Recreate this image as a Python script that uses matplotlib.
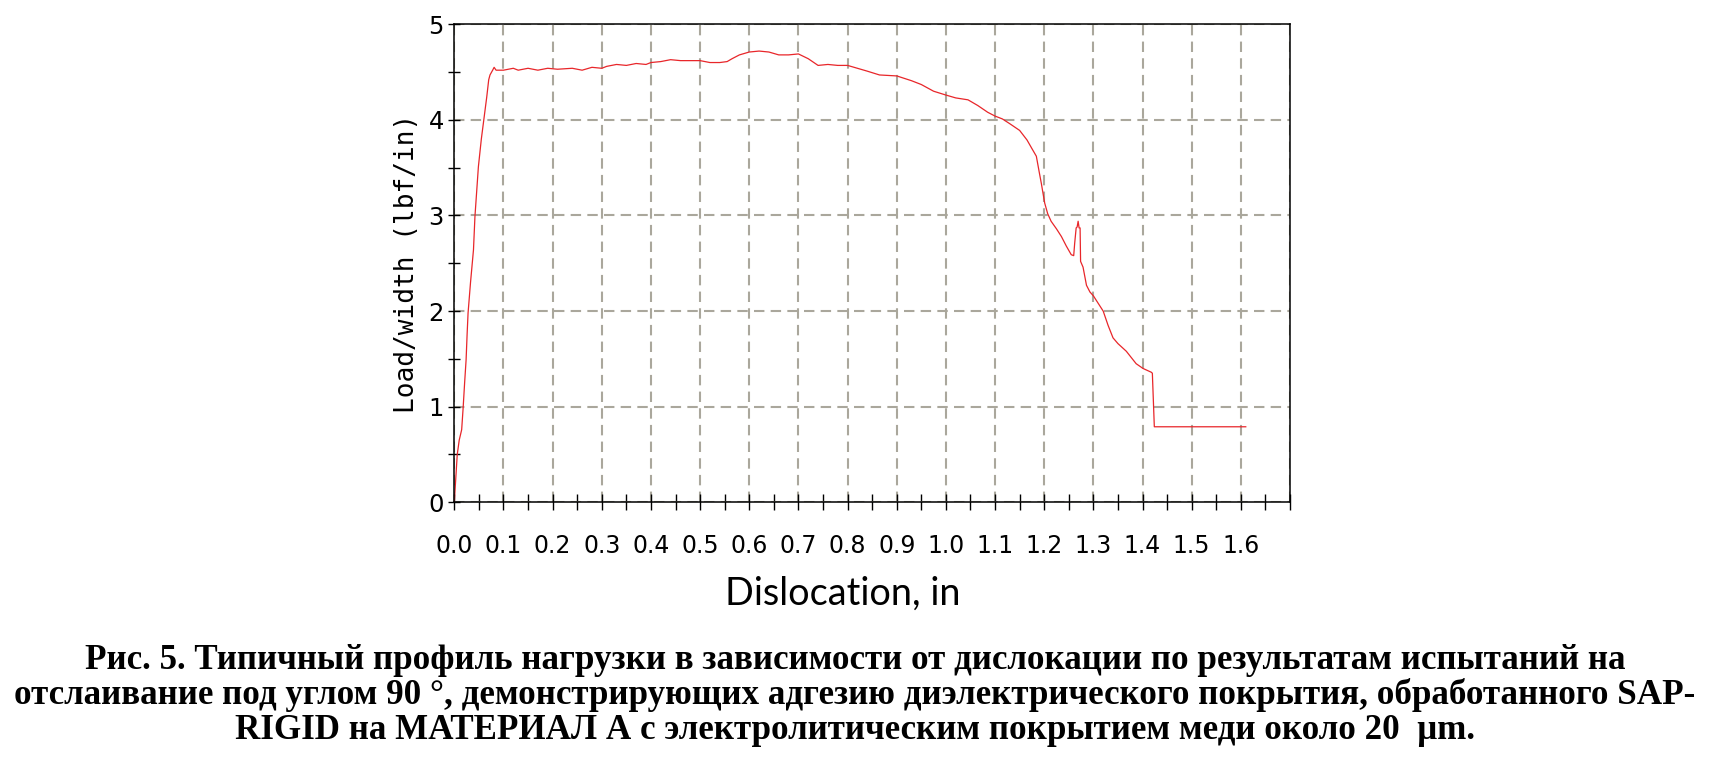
import matplotlib
matplotlib.use("Agg")
import matplotlib.pyplot as plt
from matplotlib.ticker import MultipleLocator, FixedLocator, FixedFormatter

# ---- data ----
disp = [0.000, 0.003, 0.006, 0.010, 0.015, 0.018, 0.021, 0.024, 0.026, 0.028,
        0.033, 0.039, 0.042, 0.049, 0.055, 0.059, 0.066, 0.070, 0.0726, 0.078,
        0.081, 0.085, 0.10, 0.12, 0.13, 0.15, 0.17, 0.19, 0.21, 0.24,
        0.26, 0.28, 0.30, 0.31, 0.33, 0.35, 0.37, 0.39, 0.40, 0.42,
        0.44, 0.46, 0.48, 0.50, 0.52, 0.54, 0.555, 0.565, 0.58, 0.60,
        0.62, 0.64, 0.66, 0.68, 0.70, 0.72, 0.74, 0.76, 0.78, 0.80,
        0.82, 0.84, 0.865, 0.90, 0.93, 0.95, 0.975, 1.00, 1.02, 1.045,
        1.065, 1.085, 1.10, 1.115, 1.13, 1.15, 1.165, 1.175, 1.184, 1.19,
        1.194, 1.201, 1.207, 1.214, 1.225, 1.235, 1.245, 1.255, 1.260, 1.262,
        1.265, 1.267, 1.269, 1.271, 1.273, 1.274, 1.279, 1.286, 1.293, 1.300,
        1.310, 1.320, 1.330, 1.340, 1.350, 1.367, 1.387, 1.401, 1.418, 1.420,
        1.424, 1.610]
load = [0.00, 0.25, 0.50, 0.65, 0.76, 0.99, 1.25, 1.49, 1.75, 1.98,
        2.30, 2.64, 2.99, 3.51, 3.80, 3.96, 4.24, 4.42, 4.47, 4.52,
        4.55, 4.52, 4.52, 4.54, 4.52, 4.54, 4.52, 4.54, 4.53, 4.54,
        4.52, 4.55, 4.54, 4.56, 4.58, 4.57, 4.59, 4.58, 4.60, 4.61,
        4.63, 4.62, 4.62, 4.62, 4.60, 4.60, 4.61, 4.64, 4.68, 4.71,
        4.72, 4.71, 4.68, 4.68, 4.69, 4.64, 4.57, 4.58, 4.57, 4.57,
        4.54, 4.51, 4.47, 4.46, 4.41, 4.37, 4.30, 4.26, 4.23, 4.21,
        4.15, 4.08, 4.04, 4.01, 3.96, 3.89, 3.79, 3.70, 3.62, 3.45,
        3.34, 3.13, 3.02, 2.94, 2.86, 2.78, 2.68, 2.59, 2.58, 2.71,
        2.87, 2.88, 2.94, 2.87, 2.87, 2.52, 2.46, 2.27, 2.20, 2.16,
        2.08, 2.00, 1.85, 1.72, 1.66, 1.58, 1.45, 1.40, 1.36, 1.35,
        0.79, 0.79]

x_tick_values = [round(0.1 * i, 1) for i in range(18)]
x_tick_labels = ["%.1f" % v for v in x_tick_values[:-1]] + [""]
y_tick_values = [0, 1, 2, 3, 4, 5]
y_tick_labels = ["0", "1", "2", "3", "4", "5"]

x_label = "Dislocation, in"
y_label = "Load/width (lbf/in)"
caption_lines = [
    "Рис. 5. Типичный профиль нагрузки в зависимости от дислокации по результатам испытаний на",
    "отслаивание под углом 90 °, демонстрирующих адгезию диэлектрического покрытия, обработанного SAP-",
    "RIGID на МАТЕРИАЛ А с электролитическим покрытием меди около 20  μm.",
]

# ---- figure ----
W, H, DPI = 1714, 779, 100
fig = plt.figure(figsize=(W / DPI, H / DPI), dpi=DPI)
fig.patch.set_facecolor("white")

ax_l, ax_r, ax_t, ax_b = 454.3, 1290, 24.3, 502.3
ax = fig.add_axes([ax_l / W, 1 - ax_b / H, (ax_r - ax_l) / W, (ax_b - ax_t) / H])

ax.plot(disp, load, color="#e8262a", lw=0.9)

ax.set_xlim(0, 1.7)
ax.set_ylim(0, 5)

ax.xaxis.set_major_locator(FixedLocator(x_tick_values))
ax.xaxis.set_major_formatter(FixedFormatter(x_tick_labels))
ax.xaxis.set_minor_locator(MultipleLocator(0.05))
ax.yaxis.set_major_locator(FixedLocator(y_tick_values))
ax.yaxis.set_major_formatter(FixedFormatter(y_tick_labels))
ax.yaxis.set_minor_locator(MultipleLocator(0.5))

ax.grid(True, which="major", color="#aaa79c", lw=1.5, ls=(0, (5, 3)))
ax.set_axisbelow(True)

for s in ax.spines.values():
    s.set_color("black")
    s.set_linewidth(1.1)

ax.tick_params(axis="x", which="both", direction="inout", length=11, width=1.0,
               color="black", pad=17, labelsize=17, top=False)
ax.tick_params(axis="y", which="both", direction="inout", length=9, width=1.0,
               color="black", pad=3, labelsize=17.5, right=False)
for lab in ax.get_yticklabels():
    lab.set_family(["Liberation Sans Narrow", "DejaVu Sans"])
for lab in ax.get_xticklabels():
    lab.set_family("DejaVu Sans")

fig.text(843 / W, 1 - 605 / H, x_label, ha="center", va="baseline",
         fontsize=27.3, family=["Lato", "DejaVu Sans"])
fig.text(407 / W, 1 - 263 / H, y_label, ha="center", va="center", rotation=90,
         fontsize=18.8, family="DejaVu Sans Mono")

# caption: bold serif, sized to the width of the widest line
baselines = [669, 704, 739]
texts = []
for line, yb in zip(caption_lines, baselines):
    t = fig.text(855 / W, 1 - yb / H, line, ha="center", va="baseline",
                 fontsize=26, fontweight="bold",
                 family=["Liberation Serif", "DejaVu Serif"])
    texts.append(t)
renderer = fig.canvas.get_renderer()
w2 = texts[1].get_window_extent(renderer).width
target = 1682.0
new_size = 26 * target / w2
for t in texts:
    t.set_fontsize(new_size)

fig.savefig("out.png", dpi=DPI, facecolor="white")
